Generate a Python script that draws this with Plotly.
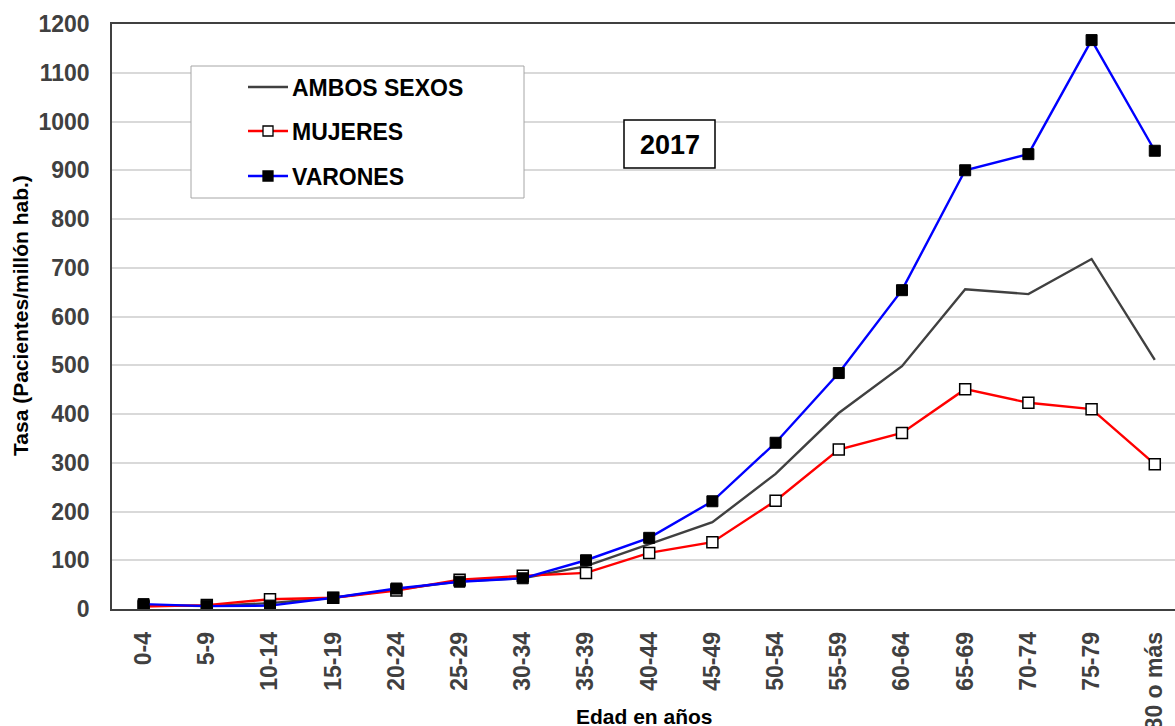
import plotly.graph_objects as go

categories = ["0-4", "5-9", "10-14", "15-19", "20-24", "25-29", "30-34", "35-39",
              "40-44", "45-49", "50-54", "55-59", "60-64", "65-69", "70-74", "75-79", "80 o más"]
ambos = [8, 6, 12, 23, 40, 57, 63, 88, 133, 178, 277, 402, 498, 656, 646, 718, 511]
mujeres = [5, 8, 20, 23, 38, 60, 68, 74, 115, 137, 222, 327, 361, 451, 423, 410, 297]
varones = [10, 6, 7, 23, 42, 56, 63, 100, 146, 221, 341, 484, 654, 900, 933, 1167, 940]
y_ticks = list(range(0, 1201, 100))

FONT = "Liberation Sans, Arial, sans-serif"
TICK_COLOR = "#404040"
x = list(range(len(categories)))

fig = go.Figure()
fig.add_trace(go.Scatter(x=x, y=ambos, mode="lines", name="AMBOS SEXOS",
                         line=dict(color="#404040", width=2.4)))
fig.add_trace(go.Scatter(x=x, y=mujeres, mode="lines+markers", name="MUJERES",
                         line=dict(color="#ff0000", width=2.4),
                         marker=dict(symbol="square", size=11, color="white",
                                     line=dict(color="black", width=1.5))))
fig.add_trace(go.Scatter(x=x, y=varones, mode="lines+markers", name="VARONES",
                         line=dict(color="#0000ff", width=2.4),
                         marker=dict(symbol="square", size=11, color="black",
                                     line=dict(color="black", width=1))))

W, H = 1175, 726
ml, mr, mt, mb = 112, 0, 24, 117
pw, ph = W - ml - mr, H - mt - mb

def px(xp):
    return (xp - ml) / pw

def py(yp):
    return 1 - (yp - mt) / ph

shapes = []
annotations = []
shapes.append(dict(type="rect", xref="paper", yref="paper",
                   x0=px(191), x1=px(524), y0=py(198), y1=py(66),
                   line=dict(color="#a6a6a6", width=1), fillcolor="white", layer="above"))
rows = [("AMBOS SEXOS", "#404040", None, 87),
        ("MUJERES", "#ff0000", "white", 131),
        ("VARONES", "#0000ff", "black", 176)]
for name, col, mfill, yy in rows:
    shapes.append(dict(type="line", xref="paper", yref="paper",
                       x0=px(248), x1=px(288), y0=py(yy), y1=py(yy),
                       line=dict(color=col, width=2.4), layer="above"))
    if mfill:
        shapes.append(dict(type="rect", xref="paper", yref="paper",
                           x0=px(263), x1=px(273), y0=py(yy + 5), y1=py(yy - 5),
                           line=dict(color="black", width=1.3), fillcolor=mfill, layer="above"))
    annotations.append(dict(text=name, xref="paper", yref="paper", x=px(290), y=py(yy + 1),
                            xanchor="left", yanchor="middle", showarrow=False,
                            font=dict(family=FONT, size=23, color="black", weight="bold")))

# "2017" box
shapes.append(dict(type="rect", xref="paper", yref="paper",
                   x0=px(624), x1=px(715), y0=py(168), y1=py(120),
                   line=dict(color="black", width=1.5), fillcolor="white", layer="above"))
annotations.append(dict(text="2017", xref="paper", yref="paper", x=px(669.5), y=py(145),
                        xanchor="center", yanchor="middle", showarrow=False,
                        font=dict(family=FONT, size=27, color="black", weight="bold")))

# axis titles
annotations.append(dict(text="Edad en años", xref="paper", yref="paper", x=px(644), y=py(716),
                        xanchor="center", yanchor="middle", showarrow=False,
                        font=dict(family=FONT, size=21, color="black", weight="bold")))
annotations.append(dict(text="Tasa (Pacientes/millón hab.)", xref="paper", yref="paper",
                        x=px(20), y=py(316), textangle=-90,
                        xanchor="center", yanchor="middle", showarrow=False,
                        font=dict(family=FONT, size=21, color="black", weight="bold")))

fig.update_layout(
    width=W, height=H,
    margin=dict(l=ml, r=mr, t=mt, b=mb, autoexpand=False),
    paper_bgcolor="white", plot_bgcolor="white",
    shapes=shapes, annotations=annotations,
    showlegend=False,
    font=dict(family=FONT),
)
fig.update_xaxes(
    range=[-0.5, 16.32], tickmode="array", tickvals=x, ticktext=categories,
    tickangle=-90, showgrid=False, zeroline=False, automargin=False,
    showline=True, linecolor="#404040", linewidth=1.5, mirror=True,
    tickfont=dict(family=FONT, size=23, color=TICK_COLOR, weight="bold"),
    ticks="", ticklabelstandoff=12,
)
fig.update_yaxes(
    range=[0, 1200], tickmode="array", tickvals=y_ticks, automargin=False,
    showgrid=True, gridcolor="#d9d9d9", gridwidth=1.5, zeroline=False,
    showline=True, linecolor="#404040", linewidth=1.5, mirror=True,
    tickfont=dict(family=FONT, size=23, color=TICK_COLOR, weight="bold"),
    ticks="", ticklabelstandoff=16,
)

fig.write_html("out.html", config={"displayModeBar": False},
               post_script="document.body.style.margin='0';document.body.style.overflow='hidden';")
